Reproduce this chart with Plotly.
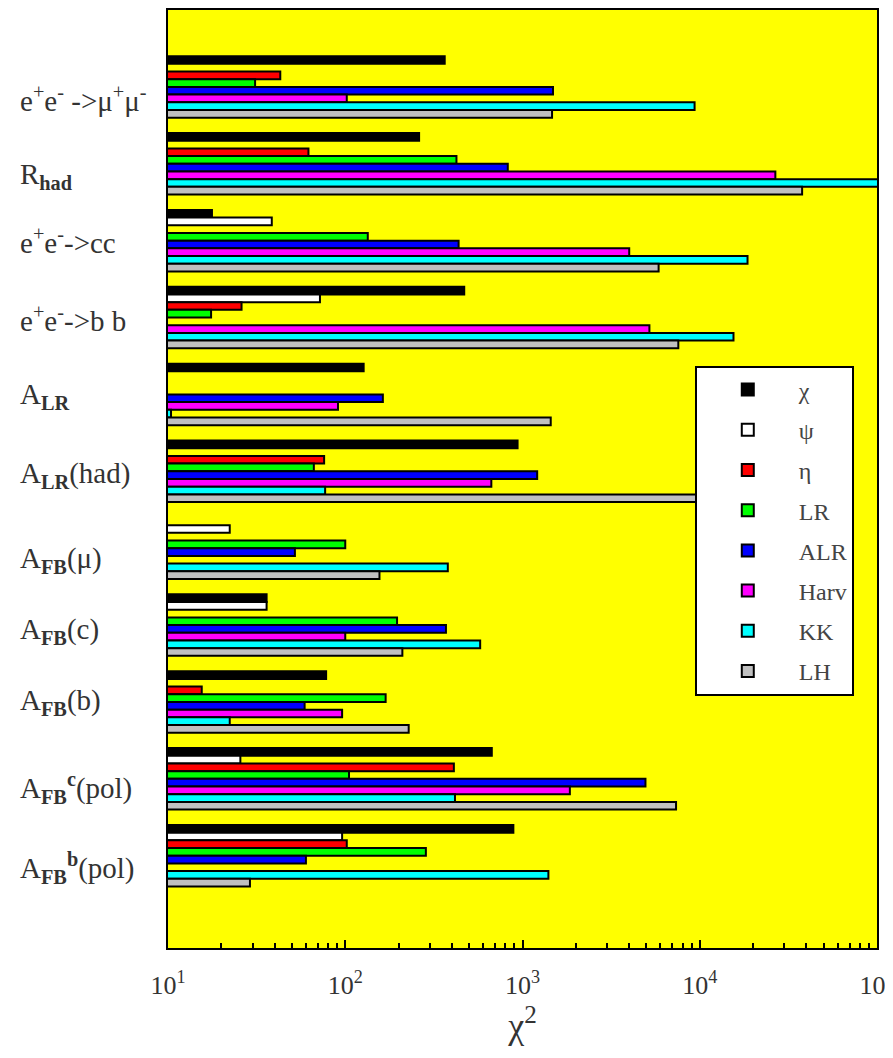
import plotly.graph_objects as go

# ---------------- data ----------------
categories = [
    "e<sup>+</sup>e<sup>-</sup> ->μ<sup>+</sup>μ<sup>-</sup>",
    "R<sub><b>had</b></sub>",
    "e<sup>+</sup>e<sup>-</sup>->cc",
    "e<sup>+</sup>e<sup>-</sup>->b b",
    "A<sub><b>LR</b></sub>",
    "A<sub><b>LR</b></sub>(had)",
    "A<sub><b>FB</b></sub>(μ)",
    "A<sub><b>FB</b></sub>(c)",
    "A<sub><b>FB</b></sub>(b)",
    "A<sub><b>FB</b></sub><sup><b>c</b></sup>(pol)",
    "A<sub><b>FB</b></sub><sup><b>b</b></sup>(pol)",
]

series_names = ["χ", "ψ", "η", "LR", "ALR", "Harv", "KK", "LH"]

chi  = [364, 261, 17.7, 469, 127, 938, None, 36, 78, 671, 888]
psi  = [None, None, 38.5, 72, None, None, 22.3, 36, None, 25.6, 96]
eta  = [43, 62, None, 26, None, 76, None, None, 15.5, 410, 102]
lr   = [31, 424, 134, 17.5, None, 66.5, 100, 196, 169, 105, 285]
alr  = [1486, 826, 436, None, 163, 1210, 52, 370, 59, 4940, 60]
harv = [102, 26700, 4000, 5200, 91, 667, None, 100, 96, 1850, None]
kk   = [9350, 110000, 18600, 15500, 10.4, 77, 379, 577, 22.3, 416, 1400]
lh   = [1468, 37800, 5860, 7570, 1443, 20000, 156, 210, 228, 7350, 29]

x_tickvals = [10, 100, 1000, 10000, 100000]
x_ticktext = ["10<sup>1</sup>", "10<sup>2</sup>", "10<sup>3</sup>", "10<sup>4</sup>", "10<sup>5</sup>"]

# ---------------- styles ----------------
colors = ["#000000", "#ffffff", "#ff0000", "#00ff00", "#0000ff", "#ff00ff", "#00ffff", "#c0c0c0"]
label_nudge_px = [12, 12, 0, 1, 2, 4, 12, 6, 0, 9, 12]
SERIF = "Liberation Serif"

series = [chi, psi, eta, lr, alr, harv, kk, lh]
positions = list(range(len(categories)))

fig = go.Figure()
for name, vals, col in zip(series_names, series, colors):
    fig.add_trace(go.Bar(
        x=vals, y=positions, orientation="h", name=name,
        legendgroup=name,
        marker=dict(color=col, line=dict(color="black", width=2)),
    ))

for i, lab in enumerate(categories):
    fig.add_annotation(
        x=-0.2116, xref="paper", xanchor="left",
        y=positions[i], yref="y", yanchor="middle",
        yshift=-label_nudge_px[i],
        text=lab, showarrow=False,
        font=dict(family=SERIF, size=29, color="#333333"),
    )

fig.update_layout(
    width=885, height=1050,
    margin=dict(l=160, r=16, t=2, b=110, autoexpand=False),
    paper_bgcolor="white", plot_bgcolor="#ffff00",
    barmode="group", bargap=0.2, bargroupgap=0,
    font=dict(family=SERIF, color="#333333"),
    legend=dict(
        x=0.743, y=0.621, xanchor="left", yanchor="top",
        bgcolor="white", bordercolor="black", borderwidth=2,
        font=dict(family=SERIF, size=24, color="#444444"),
        traceorder="grouped", tracegroupgap=6,
        itemwidth=92,
    ),
    xaxis=dict(
        type="log", range=[1, 5], automargin=False,
        tickmode="array", tickvals=x_tickvals, ticktext=x_ticktext,
        ticks="inside", ticklen=8, tickwidth=2, tickcolor="black",
        minor=dict(ticks="inside", ticklen=5, tickwidth=1.5, tickcolor="black", dtick="D1"),
        showline=True, mirror=True, linecolor="black", linewidth=2,
        showgrid=False, zeroline=False,
        ticklabelstandoff=13, ticklabeloverflow="allow",
        tickfont=dict(family=SERIF, size=26, color="#333333"),
        title=dict(text="χ<sup>2</sup>", font=dict(family=SERIF, size=36, color="#333333"), standoff=14),
    ),
    yaxis=dict(
        range=[11.2, -1.0], showticklabels=False, ticks="", automargin=False,
        showline=True, mirror=True, linecolor="black", linewidth=2,
        showgrid=False, zeroline=False,
    ),
)

fig.write_html("out.html")
